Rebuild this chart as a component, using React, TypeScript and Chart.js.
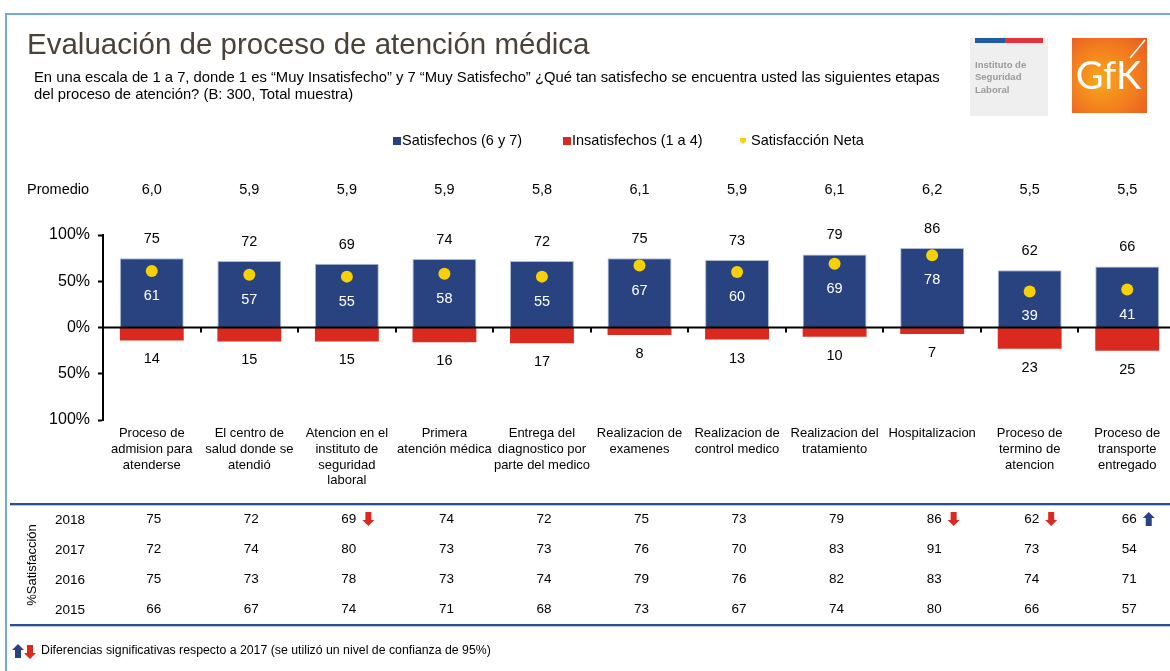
import React, { useEffect, useRef } from 'react';
import { Chart, registerables } from 'chart.js';

Chart.register(...registerables);

const categories: string[][] = [
  ['Proceso de', 'admision para', 'atenderse'],
  ['El centro de', 'salud donde se', 'atendió'],
  ['Atencion en el', 'instituto de', 'seguridad', 'laboral'],
  ['Primera', 'atención médica'],
  ['Entrega del', 'diagnostico por', 'parte del medico'],
  ['Realizacion de', 'examenes'],
  ['Realizacion de', 'control medico'],
  ['Realizacion del', 'tratamiento'],
  ['Hospitalizacion'],
  ['Proceso de', 'termino de', 'atencion'],
  ['Proceso de', 'transporte', 'entregado'],
];
const satisfechos = [75, 72, 69, 74, 72, 75, 73, 79, 86, 62, 66];
const insatisfechos = [14, 15, 15, 16, 17, 8, 13, 10, 7, 23, 25];
const satisfaccionNeta = [61, 57, 55, 58, 55, 67, 60, 69, 78, 39, 41];
const promedio = ['6,0', '5,9', '5,9', '5,9', '5,8', '6,1', '5,9', '6,1', '6,2', '5,5', '5,5'];
const tableYears = ['2018', '2017', '2016', '2015'];
const sat2018 = [75, 72, 69, 74, 72, 75, 73, 79, 86, 62, 66];
const sat2017 = [72, 74, 80, 73, 73, 76, 70, 83, 91, 73, 54];
const sat2016 = [75, 73, 78, 73, 74, 79, 76, 82, 83, 74, 71];
const sat2015 = [66, 67, 74, 71, 68, 73, 67, 74, 80, 66, 57];
// 1 = significant rise vs 2017, -1 = significant drop
const signif2018 = [0, 0, -1, 0, 0, 0, 0, 0, -1, -1, 1];
const yTickValues = [-100, -50, 0, 50, 100];

const FONT = '"Liberation Sans", Arial, sans-serif';
const BLUE = '#28437F';
const RED = '#DA2A1F';
const YELLOW = '#F7D008';

function drawArrow(ctx: CanvasRenderingContext2D, x: number, yc: number, dir: number, color: string) {
  const w = 12, h = 14, sw = 6, hh = 6;
  const top = yc - h / 2;
  ctx.save();
  ctx.fillStyle = color;
  ctx.beginPath();
  if (dir < 0) {
    ctx.moveTo(x + (w - sw) / 2, top);
    ctx.lineTo(x + (w + sw) / 2, top);
    ctx.lineTo(x + (w + sw) / 2, top + h - hh);
    ctx.lineTo(x + w, top + h - hh);
    ctx.lineTo(x + w / 2, top + h);
    ctx.lineTo(x, top + h - hh);
    ctx.lineTo(x + (w - sw) / 2, top + h - hh);
  } else {
    ctx.moveTo(x + (w - sw) / 2, top + h);
    ctx.lineTo(x + (w + sw) / 2, top + h);
    ctx.lineTo(x + (w + sw) / 2, top + hh);
    ctx.lineTo(x + w, top + hh);
    ctx.lineTo(x + w / 2, top);
    ctx.lineTo(x, top + hh);
    ctx.lineTo(x + (w - sw) / 2, top + hh);
  }
  ctx.closePath();
  ctx.fill();
  ctx.restore();
}

const decorPlugin = {
  id: 'decor',
  beforeDraw(chart: any) {
    const ctx: CanvasRenderingContext2D = chart.ctx;
    const xs = chart.scales.x;
    ctx.save();
    ctx.fillStyle = '#fff';
    ctx.fillRect(0, 0, chart.width, chart.height);

    // frame
    ctx.strokeStyle = '#74A9DE';
    ctx.lineWidth = 2;
    ctx.beginPath();
    ctx.moveTo(6, 700);
    ctx.lineTo(6, 14);
    ctx.lineTo(1200, 14);
    ctx.stroke();

    // title
    ctx.textBaseline = 'middle';
    ctx.textAlign = 'left';
    ctx.fillStyle = '#4A4239';
    ctx.font = `29.5px ${FONT}`;
    ctx.fillText('Evaluación de proceso de atención médica', 27, 46);

    ctx.fillStyle = '#000';
    ctx.font = `14.8px ${FONT}`;
    ctx.fillText('En una escala de 1 a 7, donde 1 es “Muy Insatisfecho” y 7 “Muy Satisfecho” ¿Qué tan satisfecho se encuentra usted las siguientes etapas', 34, 78);
    ctx.fillText('del proceso de atención? (B: 300, Total muestra)', 34, 95);

    // ISL logo
    ctx.fillStyle = '#EFEFEF';
    ctx.fillRect(970, 38, 78, 78);
    ctx.fillStyle = '#1F5BA8';
    ctx.fillRect(975, 38, 30, 5);
    ctx.fillStyle = '#E1343F';
    ctx.fillRect(1005, 38, 38, 5);
    ctx.fillStyle = '#9A9A9A';
    ctx.font = `bold 9.5px ${FONT}`;
    ctx.fillText('Instituto de', 975, 65);
    ctx.fillText('Seguridad', 975, 77);
    ctx.fillText('Laboral', 975, 90);

    // GfK logo
    const gx = 1072, gy = 38, gs = 75;
    const grad = ctx.createRadialGradient(gx + 28, gy + 42, 4, gx + 35, gy + 40, 62);
    grad.addColorStop(0, '#F8A31B');
    grad.addColorStop(0.55, '#F2791F');
    grad.addColorStop(1, '#E4521F');
    ctx.fillStyle = grad;
    ctx.fillRect(gx, gy, gs, gs);
    ctx.fillStyle = '#fff';
    ctx.font = `38px Lato, ${FONT}`;
    ctx.textAlign = 'center';
    ctx.fillText('GfK', gx + gs / 2 - 1, gy + 39);
    ctx.strokeStyle = '#fff';
    ctx.lineWidth = 1.5;
    ctx.beginPath();
    ctx.moveTo(gx + 58, gy + 20);
    ctx.lineTo(gx + 73, gy + 2);
    ctx.stroke();

    // legend
    ctx.textAlign = 'left';
    ctx.font = `14.5px ${FONT}`;
    ctx.fillStyle = BLUE;
    ctx.fillRect(393, 137, 8, 8);
    ctx.fillStyle = '#000';
    ctx.fillText('Satisfechos (6 y 7)', 402, 141);
    ctx.fillStyle = RED;
    ctx.fillRect(563, 137, 8, 8);
    ctx.fillStyle = '#000';
    ctx.fillText('Insatisfechos (1 a 4)', 572, 141);
    ctx.fillStyle = YELLOW;
    ctx.beginPath();
    ctx.moveTo(740, 138);
    ctx.lineTo(746, 138);
    ctx.lineTo(746, 141);
    ctx.lineTo(743, 144);
    ctx.lineTo(740, 141);
    ctx.closePath();
    ctx.fill();
    ctx.fillStyle = '#000';
    ctx.fillText('Satisfacción Neta', 751, 141);

    // Promedio row
    ctx.fillText('Promedio', 27, 190);
    ctx.textAlign = 'center';
    promedio.forEach((p, i) => ctx.fillText(p, xs.getPixelForValue(i), 190));

    // table
    const lineY = [503, 624];
    lineY.forEach((ly) => {
      ctx.fillStyle = '#2E4D8F';
      ctx.fillRect(10, ly, 1200, 2);
      ctx.fillStyle = '#B9C6E0';
      ctx.fillRect(10, ly + 2, 1200, 1);
    });
    const rows = [sat2018, sat2017, sat2016, sat2015];
    const rowY = [519, 549, 579, 609];
    ctx.font = `13.5px ${FONT}`;
    rows.forEach((row, r) => {
      ctx.textAlign = 'left';
      ctx.fillStyle = '#000';
      ctx.fillText(tableYears[r], 55, rowY[r] + 1);
      ctx.textAlign = 'center';
      row.forEach((v, i) => {
        const cx = xs.getPixelForValue(i) + 2;
        ctx.fillStyle = '#000';
        ctx.fillText(String(v), cx, rowY[r]);
        if (r === 0 && signif2018[i] !== 0) {
          const tw = ctx.measureText(String(v)).width;
          drawArrow(ctx, cx + tw / 2 + 6, rowY[r], signif2018[i], signif2018[i] > 0 ? BLUE : RED);
        }
      });
    });
    ctx.save();
    ctx.translate(32, 565);
    ctx.rotate(-Math.PI / 2);
    ctx.textAlign = 'center';
    ctx.fillStyle = '#000';
    ctx.font = `13px ${FONT}`;
    ctx.fillText('%Satisfacción', 0, 0);
    ctx.restore();

    // footer
    drawArrow(ctx, 12, 651, 1, BLUE);
    drawArrow(ctx, 24, 652, -1, RED);
    ctx.textAlign = 'left';
    ctx.fillStyle = '#000';
    ctx.font = `12.3px ${FONT}`;
    ctx.fillText('Diferencias significativas respecto a 2017 (se utilizó un nivel de confianza de 95%)', 41, 651);
    ctx.restore();
  },
  afterDatasetsDraw(chart: any) {
    const ctx: CanvasRenderingContext2D = chart.ctx;
    const xs = chart.scales.x;
    const ys = chart.scales.y;
    const area = chart.chartArea;
    const zeroY = ys.getPixelForValue(0);
    ctx.save();
    ctx.fillStyle = '#000';
    ctx.fillRect(area.left, zeroY - 1, 1200, 2);
    const cw = (area.right - area.left) / categories.length;
    for (let i = 1; i <= categories.length; i++) {
      const bx = Math.round(area.left + i * cw);
      ctx.fillRect(bx - 1, zeroY, 2, 5);
    }
    ctx.textAlign = 'center';
    ctx.textBaseline = 'middle';
    ctx.font = `14.5px ${FONT}`;
    satisfechos.forEach((v, i) => {
      const cx = xs.getPixelForValue(i);
      ctx.fillStyle = '#000';
      ctx.fillText(String(v), cx, ys.getPixelForValue(v) - 19);
      ctx.fillText(String(insatisfechos[i]), cx, ys.getPixelForValue(-insatisfechos[i]) + 19);
      ctx.fillStyle = '#fff';
      ctx.fillText(String(satisfaccionNeta[i]), cx, ys.getPixelForValue(satisfaccionNeta[i]) + 25);
    });
    ctx.restore();
  },
};

export default function App() {
  const ref = useRef<HTMLCanvasElement>(null);
  useEffect(() => {
    if (!ref.current) return;
    const chart = new Chart(ref.current, {
      type: 'bar',
      data: {
        labels: categories,
        datasets: [
          {
            type: 'line',
            label: 'Satisfacción Neta',
            data: satisfaccionNeta,
            showLine: false,
            pointStyle: 'circle',
            pointRadius: 6,
            pointHoverRadius: 6,
            pointBackgroundColor: YELLOW,
            pointBorderWidth: 0,
            borderColor: YELLOW,
            order: 0,
          } as any,
          {
            label: 'Satisfechos (6 y 7)',
            data: satisfechos,
            backgroundColor: BLUE,
            borderColor: '#AEBBD8',
            borderWidth: 1,
            grouped: false,
            categoryPercentage: 1,
            barPercentage: 0.655,
            order: 1,
          } as any,
          {
            label: 'Insatisfechos (1 a 4)',
            data: insatisfechos.map((v) => -v),
            backgroundColor: RED,
            borderWidth: 0,
            grouped: false,
            categoryPercentage: 1,
            barPercentage: 0.655,
            order: 2,
          } as any,
        ],
      },
      options: {
        animation: false,
        responsive: false,
        devicePixelRatio: 1,
        layout: { padding: { left: 0, top: 235, right: 2, bottom: 0 } },
        plugins: {
          legend: { display: false },
          tooltip: { enabled: false },
          title: { display: false },
        },
        scales: {
          x: {
            grid: { display: false, drawTicks: false },
            border: { display: false },
            ticks: {
              color: '#000',
              font: { family: FONT, size: 13 },
              padding: 6,
              maxRotation: 0,
              autoSkip: false,
            },
            afterFit: (s: any) => { s.height = 251; },
          },
          y: {
            min: -100,
            max: 100,
            afterBuildTicks: (s: any) => { s.ticks = yTickValues.map((v) => ({ value: v })); },
            grid: {
              drawOnChartArea: false,
              drawTicks: true,
              tickLength: 5,
              tickColor: '#000',
              tickWidth: 2,
            },
            border: { display: true, color: '#000', width: 2 },
            ticks: {
              color: '#000',
              font: { family: FONT, size: 16 },
              padding: 8,
              callback: (v: any) => Math.abs(Number(v)) + '%',
            },
            afterFit: (s: any) => { s.width = 103; },
          },
        },
      },
      plugins: [decorPlugin],
    });
    return () => chart.destroy();
  }, []);
  return (
    <div style={{ position: 'fixed', left: 0, top: 0, width: 1170, height: 671, overflow: 'hidden', background: '#fff' }}>
      <canvas ref={ref} width={1182} height={671} style={{ width: 1182, height: 671, display: 'block' }} />
    </div>
  );
}
